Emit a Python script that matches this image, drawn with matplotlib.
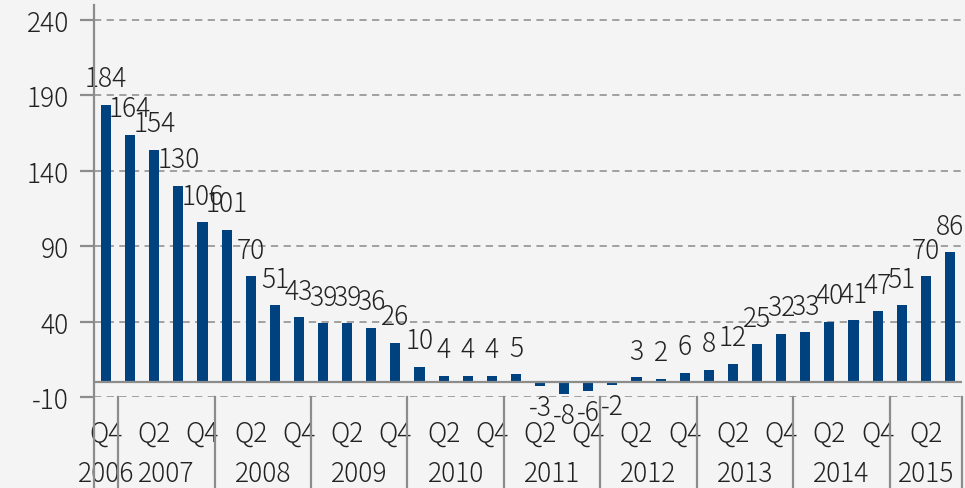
import numpy as np
import matplotlib
matplotlib.use("Agg")
import matplotlib.pyplot as plt
import matplotlib.transforms as mtransforms

plt.rcParams['font.family'] = ['Noto Sans CJK JP', 'DejaVu Sans']
plt.rcParams['font.weight'] = 300

values = [184, 164, 154, 130, 106, 101, 70, 51, 43, 39, 39, 36, 26, 10,
          4, 4, 4, 5, -3, -8, -6, -2, 3, 2, 6, 8, 12, 25, 32, 33, 40, 41,
          47, 51, 70, 86]
quarter_labels = ["Q4", "Q2", "Q4", "Q2", "Q4", "Q2", "Q4", "Q2", "Q4",
                  "Q2", "Q4", "Q2", "Q4", "Q2", "Q4", "Q2", "Q4", "Q2"]
years = ["2006", "2007", "2008", "2009", "2010", "2011", "2012", "2013",
         "2014", "2015"]
quarters_per_year = [1, 4, 4, 4, 4, 4, 4, 4, 4, 3]
yticks = [-10, 40, 90, 140, 190, 240]

bar_color = "#00427f"
grey = "#8c8c8c"
text_color = "#222222"
bg = "#f4f4f4"
fs = 19

fig = plt.figure(figsize=(9.65, 4.89), dpi=100, facecolor=bg)
ax = fig.add_axes([94 / 965, 91 / 489, 868 / 965, 392 / 489])
ax.set_facecolor(bg)

x = np.arange(len(values))
ax.bar(x, values, width=0.42, color=bar_color, zorder=3)
ax.set_xlim(-0.5, len(values) - 0.5)
ax.set_ylim(-10, 250)

# grid and zero line
for t in yticks:
    ax.axhline(t, color="#9a9a9a", lw=1.3, ls=(0, (4, 3)), zorder=1)
ax.axhline(0, color=grey, lw=1.6, zorder=4)

for s in ax.spines.values():
    s.set_visible(False)
trans = mtransforms.blended_transform_factory(ax.transData, ax.transAxes)
ax.plot([-0.5, -0.5], [-0.232, 1.0], color=grey, lw=1.6, transform=trans,
        clip_on=False, zorder=5)

ax.set_yticks(yticks)
ax.set_yticklabels([str(t) for t in yticks], fontsize=fs, color=text_color)
ax.tick_params(axis='y', length=10, width=1.6, color=grey, pad=8)
ax.set_xticks([])

# value labels
for xi, v in zip(x, values):
    if v >= 0:
        ax.annotate(str(v), (xi, v), xytext=(0, 9), textcoords='offset points',
                    ha='center', va='bottom', fontsize=fs, color=text_color)
    else:
        ax.annotate(str(v), (xi, v), xytext=(0, -5), textcoords='offset points',
                    ha='center', va='top', fontsize=fs, color=text_color)

# quarter labels
for i, lab in enumerate(quarter_labels):
    ax.text(2 * i, -0.09, lab, transform=trans, ha='center', va='center',
            fontsize=fs, color=text_color)

# year labels and separators
start = 0
for yr, n in zip(years, quarters_per_year):
    center = start + (n - 1) / 2
    ax.text(center, -0.195, yr, transform=trans, ha='center', va='center',
            fontsize=fs, color=text_color)
    start += n
    ax.plot([start - 0.5, start - 0.5], [0, -0.232], color=grey, lw=1.6,
            transform=trans, clip_on=False, zorder=5)

fig.savefig("out.png", dpi=100, facecolor=bg)
